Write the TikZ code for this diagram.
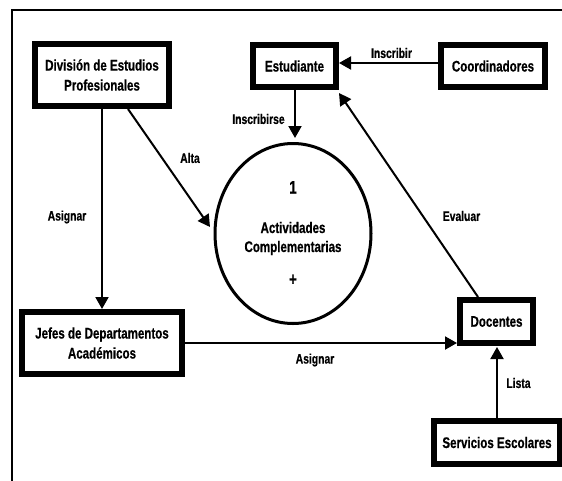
\documentclass[tikz,border=0pt]{standalone}
\usepackage{fontspec}
\setmainfont[FakeStretch=0.75,BoldFeatures={FakeBold=0.6}]{Liberation Sans}
\usetikzlibrary{arrows.meta,shapes.geometric}
\begin{document}
\begin{tikzpicture}[x=1pt,y=-1pt,
  font=\fontsize{15.4}{20}\selectfont\bfseries,
  entity/.style={draw, line width=6pt, fill=white, align=center, inner sep=0pt},
  flow/.style={line width=2pt, -{Triangle[length=12pt,width=13pt]}},
  lbl/.style={inner sep=0pt, font=\fontsize{13.8}{16}\selectfont\bfseries},
  big/.style={font=\fontsize{18}{20}\selectfont\bfseries}]
\useasboundingbox (0,0) rectangle (562,480);
\draw[line width=1.7pt] (11.7,490) -- (11.7,10) -- (572,10);
\node[entity, minimum width=134pt, minimum height=62pt] (div) at (102,75) {División de Estudios\\Profesionales};
\node[entity, minimum width=83pt, minimum height=42pt] (est) at (294.5,66) {Estudiante};
\node[entity, minimum width=104pt, minimum height=42pt] (coo) at (493,66) {Coordinadores};
\node[entity, minimum width=160pt, minimum height=62pt] (jef) at (102,343) {Jefes de Departamentos\\Académicos};
\node[entity, minimum width=73pt, minimum height=43pt] (doc) at (496.5,321.5) {Docentes};
\node[entity, minimum width=126pt, minimum height=43pt] (ser) at (497,442.5) {Servicios Escolares};
\node[draw, line width=3pt, ellipse, minimum width=156pt, minimum height=180pt, inner sep=0pt] (act) at (293,233.5) {};
\node[anchor=base, big] (num) at (293,193.5) {1};
\node[anchor=base] (name1) at (293,233) {Actividades};
\node[anchor=base] (name2) at (293,252) {Complementarias};
\node[big] (plus) at (293,280) {+};
% Coordinadores -> Estudiante
\coordinate (coe) at (438,63);
\coordinate (este) at (339,63);
\draw[flow] (coe) -- (este);
\node[lbl] (l1) at (391.5,53) {Inscribir};
% Estudiante -> Actividades
\coordinate (ests) at (295,90);
\coordinate (acttop) at (295,138);
\draw[flow] (ests) -- (acttop);
\node[lbl] (l2) at (258.5,119) {Inscribirse};
% Division -> Actividades
\coordinate (divs) at (128,109);
\coordinate (actw) at (210,227);
\draw[flow] (divs) -- (actw);
\node[lbl] (l3) at (190,158) {Alta};
% Division -> Jefes
\coordinate (divb) at (102,109);
\coordinate (jeft) at (102,309);
\draw[flow] (divb) -- (jeft);
\node[lbl] (l4) at (67,217) {Asignar};
% Jefes -> Docentes
\coordinate (jefe) at (185,343);
\coordinate (docw) at (457,343);
\draw[flow] (jefe) -- (docw);
\node[lbl] (l5) at (315,360) {Asignar};
% Docentes -> Estudiante
\coordinate (doct) at (478,297);
\coordinate (estse) at (339,93);
\draw[flow] (doct) -- (estse);
\node[lbl] (l6) at (461.5,216) {Evaluar};
% Servicios -> Docentes
\coordinate (sert) at (497,418);
\coordinate (docb) at (497,347);
\draw[flow] (sert) -- (docb);
\node[lbl] (l7) at (518.5,383) {Lista};
\end{tikzpicture}
\end{document}
